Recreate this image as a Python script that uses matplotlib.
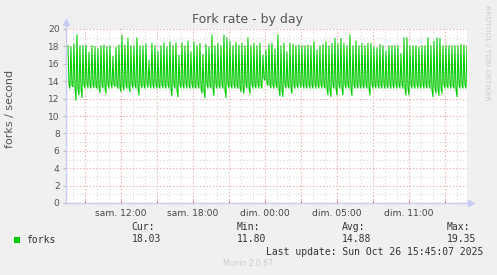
import matplotlib
matplotlib.use("Agg")
import matplotlib.pyplot as plt
from matplotlib.patches import Rectangle
from matplotlib.lines import Line2D
import numpy as np

# ---------------- data ----------------
title = "Fork rate - by day"
y_label = "forks / second"
series_name = "forks"

# fork rate, 5-minute samples (peak, after-peak, trough per cycle), last value = Cur
forks = [
    18.08, 13.6, 13.18, 17.97, 13.5, 13.37, 18.28, 13.4, 11.80, 19.35, 13.1, 12.41,
    18.08, 13.3, 12.11, 18.08, 13.6, 13.18, 18.16, 13.7, 13.20, 17.32, 13.5, 13.18,
    18.08, 13.6, 13.25, 18.01, 13.4, 13.18, 17.78, 13.3, 12.68, 18.08, 13.6, 13.20,
    18.16, 13.2, 12.61, 17.97, 13.6, 13.18, 18.08, 13.7, 13.20, 16.86, 13.6, 13.37,
    17.93, 13.5, 13.18, 18.16, 13.3, 12.80, 19.31, 13.4, 12.99, 18.16, 13.6, 13.18,
    18.93, 13.3, 12.80, 18.08, 13.6, 13.20,
    18.08, 13.6, 13.18, 19.00, 13.2, 12.41, 18.08, 13.6, 13.20, 18.08, 13.5, 13.18,
    18.28, 13.7, 13.25, 16.44, 13.6, 13.20, 18.39, 13.5, 13.18, 18.08, 13.6, 13.20,
    17.47, 13.4, 13.18, 18.08, 13.6, 13.22, 18.35, 13.5, 13.18, 17.97, 13.6, 13.20,
    18.54, 13.1, 12.30, 18.08, 13.6, 13.18, 18.39, 13.0, 12.22, 17.01, 13.6, 13.20,
    18.39, 13.5, 13.18, 18.08, 13.7, 13.20, 18.62, 13.5, 13.18, 17.39, 13.6, 13.20,
    18.54, 13.4, 13.18, 18.08, 13.6, 13.20, 18.35, 13.3, 12.61,
    17.09, 13.0, 12.11, 18.24, 13.6, 13.18, 17.97, 13.5, 13.20, 19.31, 13.2, 12.34,
    18.08, 13.6, 13.18, 18.35, 13.5, 13.20, 18.08, 13.6, 13.18, 19.31, 13.0, 12.11,
    19.00, 13.6, 13.20, 18.62, 13.5, 13.18, 18.08, 13.6, 13.20, 18.47, 13.5, 13.18,
    18.16, 13.3, 12.80, 18.35, 13.2, 12.61, 18.08, 13.6, 13.20, 19.00, 13.2, 12.61,
    18.08, 13.6, 13.18, 18.35, 13.5, 13.20, 18.08, 13.6, 13.18, 18.35, 13.5, 13.20,
    17.01, 14.3, 14.10, 17.59, 13.8, 13.50, 18.24, 13.6, 13.20,
    18.35, 13.5, 13.18, 17.70, 13.6, 13.20, 19.31, 13.1, 12.30, 18.08, 13.0, 12.22,
    18.35, 13.6, 13.18, 17.39, 13.5, 13.20, 18.35, 13.3, 12.61, 18.24, 13.6, 13.18,
    18.08, 13.5, 13.20, 18.16, 13.7, 13.25, 18.08, 13.6, 13.18, 18.08, 13.5, 13.20,
    18.16, 13.6, 13.18, 18.08, 13.5, 13.20, 18.54, 13.6, 13.18, 17.59, 13.5, 13.20,
    18.08, 13.6, 13.18, 18.24, 13.5, 13.20, 18.54, 13.2, 12.41, 18.08, 13.0, 12.22,
    18.35, 13.6, 13.18, 18.93, 13.2, 12.41,
    18.35, 13.6, 13.18, 18.93, 13.2, 12.41, 18.35, 13.6, 13.18, 18.08, 13.5, 13.20,
    19.31, 13.1, 12.34, 18.08, 13.6, 13.18, 18.62, 13.5, 13.20, 18.08, 13.6, 13.18,
    18.35, 13.5, 13.20, 18.08, 13.6, 13.18, 18.35, 13.2, 12.41, 18.35, 13.6, 13.18,
    17.93, 13.5, 13.20, 17.85, 13.6, 13.18, 18.24, 13.5, 13.20, 18.08, 13.6, 13.18,
    17.47, 13.5, 13.20, 18.08, 13.6, 13.18, 18.08, 13.5, 13.20, 18.08, 13.6, 13.18,
    18.08, 13.5, 13.20, 17.20, 13.6, 13.18, 19.00, 13.2, 12.41,
    19.00, 13.2, 12.41, 18.08, 13.6, 13.18, 18.08, 13.5, 13.20, 18.08, 13.6, 13.18,
    17.93, 13.5, 13.20, 18.08, 13.6, 13.18, 18.08, 13.5, 13.20, 19.00, 13.6, 13.18,
    18.08, 13.0, 12.22, 18.62, 13.3, 12.61, 19.00, 13.1, 12.34, 18.93, 13.3, 12.61,
    18.08, 13.6, 13.18, 18.08, 13.5, 13.20, 18.08, 13.6, 13.18, 18.08, 13.5, 13.20,
    18.08, 13.0, 12.22, 18.08, 13.6, 13.18, 18.24, 13.5, 13.20, 18.16, 13.6, 13.18,
    18.03,
]
t_last_hours = 28.83          # hours after "sam. 12:00" of the last sample
step_hours = 5.0 / 60.0       # 5-minute samples

x_tick_hours = [0, 6, 12, 18, 24]
x_tick_labels = ["sam. 12:00", "sam. 18:00", "dim. 00:00", "dim. 05:00", "dim. 11:00"]
x_range_hours = (-4.583, 28.833)
y_range = (0, 20)

stat_names = ["Cur:", "Min:", "Avg:", "Max:"]
stat_values = ["18.03", "11.80", "14.88", "19.35"]
last_update = "Last update: Sun Oct 26 15:45:07 2025"
footer = "Munin 2.0.67"
side_text = "RRDTOOL / TOBI OETIKER"

# ---------------- styling ----------------
W, H = 497, 275
BG = "#F0F0F0"
LINE = "#00CC00"
MAJ = "#E9A0A0"
MIN = "#D8D8D8"
AXC = "#C8CCF4"

def fx(px):
    return px / W

def fy(py):
    return 1 - py / H

fig = plt.figure(figsize=(W / 100, H / 100), dpi=100, facecolor=BG)
ax_l, ax_r, ax_t, ax_b = 66, 467, 29, 203
ax = fig.add_axes([fx(ax_l), fy(ax_b), (ax_r - ax_l) / W, (ax_b - ax_t) / H])
ax.set_facecolor("white")

n = len(forks)
t = t_last_hours - step_hours * np.arange(n - 1, -1, -1)
ax.plot(t, forks, color=LINE, lw=0.75, zorder=3)

ax.set_xlim(*x_range_hours)
ax.set_ylim(*y_range)

# grid
ax.set_yticks(np.arange(0, 21, 2))
ax.set_yticks(np.arange(1, 20, 2), minor=True)
ax.set_xticks(x_tick_hours)
ax.set_xticklabels(x_tick_labels)
major_x = np.arange(-3, 29, 3)
minor_x = [h for h in range(-4, 29) if h % 3 != 0]
ax.set_xticks(minor_x, minor=True)
for h in minor_x:
    ax.axvline(h, color=MIN, lw=0.8, ls=(0, (1, 2)), zorder=1)
for v in np.arange(1, 20, 2):
    ax.axhline(v, color=MIN, lw=0.8, ls=(0, (1, 2)), zorder=1)
for h in major_x:
    ax.axvline(h, color=MAJ, lw=0.8, ls=(0, (1, 2)), zorder=2)
for v in np.arange(2, 21, 2):
    ax.axhline(v, color=MAJ, lw=0.8, ls=(0, (1, 2)), zorder=2)

for s in ax.spines.values():
    s.set_visible(False)

ax.tick_params(axis="y", which="major", length=2, width=0.8, color="#BBBBBB",
               pad=2.5, labelsize=6.6, labelcolor="#555555")
ax.tick_params(axis="y", which="minor", length=0)
ax.tick_params(axis="x", which="both", length=0, pad=4.5, labelsize=6.6,
               labelcolor="#444444")
# red tick marks on the bottom axis at major grid positions
for h in major_x:
    ax.plot([h, h], [0, 0.25], color="#E06060", lw=0.8, clip_on=False, zorder=4)

# axis lines with arrows
ax.add_line(Line2D([0, 0], [0, 1.035], transform=ax.transAxes, color=AXC,
                   lw=1.0, clip_on=False, zorder=5))
ax.add_line(Line2D([0, 1.008], [0, 0], transform=ax.transAxes, color=AXC,
                   lw=1.0, clip_on=False, zorder=5))
ax.plot([0], [1.04], marker="^", ms=5, color=AXC, transform=ax.transAxes,
        clip_on=False, zorder=5)
ax.plot([1.01], [0], marker=">", ms=5, color=AXC, transform=ax.transAxes,
        clip_on=False, zorder=5)

# texts
fig.text(fx(248), fy(19), title, ha="center", va="center", fontsize=9,
         color="#555555")
fig.text(fx(10), fy(109), y_label, ha="center", va="center", rotation=90,
         fontsize=8, color="#555555")
fig.text(fx(487.5), fy(53), side_text, ha="center", va="center", rotation=270,
         fontsize=5.4, color="#CCCCCC")

mono = "DejaVu Sans Mono"
fig.patches.append(Rectangle((fx(14), fy(243)), 6 / W, 6 / H, transform=fig.transFigure,
                             facecolor=LINE, edgecolor="none"))
fig.text(fx(26.5), fy(240), series_name, ha="left", va="center", fontsize=7,
         family=mono, color="#333333")
stat_x = [131.5, 237, 342, 447]
for sx, name, val in zip(stat_x, stat_names, stat_values):
    fig.text(fx(sx), fy(227.5), name, ha="left", va="center", fontsize=7,
             family=mono, color="#333333")
    fig.text(fx(sx), fy(239.5), val, ha="left", va="center", fontsize=7,
             family=mono, color="#333333")
fig.text(fx(483), fy(252), last_update, ha="right", va="center", fontsize=7,
         family=mono, color="#333333")
fig.text(fx(248), fy(264), footer, ha="center", va="center", fontsize=5.5,
         color="#CCCCCC")

fig.savefig("out.png", dpi=100, facecolor=BG)
